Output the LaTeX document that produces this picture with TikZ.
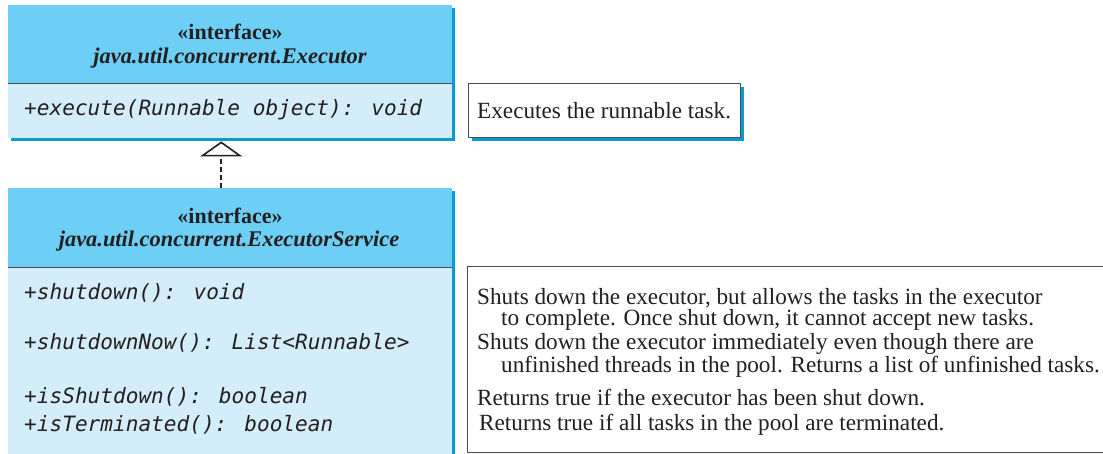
\documentclass[tikz,border=0pt]{standalone}
\usepackage{fontspec}
\setmainfont{Liberation Serif}
\newfontfamily\methfont{DejaVu Sans Mono}
\usetikzlibrary{arrows.meta,shadows}
\definecolor{headblue}{HTML}{6DCFF6}
\definecolor{bodyblue}{HTML}{D3EEFA}
\definecolor{shadowblue}{HTML}{0A9BD0}
\definecolor{sepgray}{HTML}{4D4D4D}
\definecolor{ink}{HTML}{231F20}
\tikzset{
  classbox/.style={anchor=north west, inner sep=0pt, fill=bodyblue, minimum width=444pt,
    drop shadow={shadow xshift=3pt, shadow yshift=-3pt, fill=shadowblue, opacity=1}},
  headbox/.style={anchor=north west, inner sep=0pt, fill=headblue, minimum width=444pt},
  sepline/.style={draw=sepgray, line width=1.2pt},
  stereo/.style={font=\fontsize{22}{24}\selectfont\bfseries, text=ink},
  cname/.style={font=\fontsize{22.4}{24}\selectfont\bfseries\itshape, text=ink},
  meth/.style={anchor=west, inner sep=0pt, font=\methfont\itshape\fontsize{21.1}{24}\selectfont, text=ink},
  desc/.style={anchor=west, inner sep=0pt, font=\fontsize{23.2}{24}\selectfont, text=ink},
  descbox/.style={anchor=north west, inner sep=0pt, draw=sepgray, line width=1pt, fill=white},
  realize/.style={dashed, dash pattern=on 5pt off 3pt, line width=1.6pt, draw=ink,
    -{Triangle[open, width=42pt, length=15pt, line width=1.6pt]}}
}
\begin{document}
\begin{tikzpicture}[x=1pt,y=-1pt]
\useasboundingbox (0,0) rectangle (1103,453);
\begin{scope}
\clip (0,0) rectangle (1103,453);
% top class
\node[classbox, minimum height=133pt] (exec) at (8,5) {};
\node[headbox, minimum height=78pt] (exechead) at (8,5) {};
\draw[sepline] (exechead.south west) -- (exechead.south east);
\node[stereo] (st1) at (230,32) {«interface»};
\node[cname] (cn1) at (230,58) {java.util.concurrent.Executor};
\node[meth] (m1) at (24,110) {+execute(Runnable object): void};
% bottom class
\node[classbox, minimum height=280pt] (svc) at (8,188) {};
\node[headbox, minimum height=79pt] (svchead) at (8,188) {};
\draw[sepline] (svchead.south west) -- (svchead.south east);
\node[stereo] (st2) at (230,216) {«interface»};
\node[cname] (cn2) at (229,241) {java.util.concurrent.ExecutorService};
\node[meth] (m2) at (24,293) {+shutdown(): void};
\node[meth] (m3) at (24,343) {+shutdownNow(): List<Runnable>};
\node[meth] (m4) at (24,397) {+isShutdown(): boolean};
\node[meth] (m5) at (24,425) {+isTerminated(): boolean};
% realization arrow
\draw[realize] ([xshift=-9pt]svc.north) -- ([xshift=-9pt,yshift=-3pt]exec.south);
% description boxes
\node[descbox, minimum width=272pt, minimum height=54pt,
  drop shadow={shadow xshift=3pt, shadow yshift=-3pt, fill=shadowblue, opacity=1}] (d1box) at (468,83) {};
\node[desc] (d1) at (477,111) {Executes the runnable task.};
\node[descbox, minimum width=700pt, minimum height=186pt] (d2box) at (467,266) {};
\node[desc] (d2a) at (477,298) {Shuts down the executor, but allows the tasks in the executor};
\node[desc] (d2b) at (501,320) {to complete. Once shut down, it cannot accept new tasks.};
\node[desc] (d2c) at (477,344) {Shuts down the executor immediately even though there are};
\node[desc] (d2d) at (501,367) {unfinished threads in the pool. Returns a list of unfinished tasks.};
\node[desc] (d2e) at (477,397) {Returns true if the executor has been shut down.};
\node[desc] (d2f) at (479,425) {Returns true if all tasks in the pool are terminated.};
\end{scope}
\end{tikzpicture}
\end{document}
